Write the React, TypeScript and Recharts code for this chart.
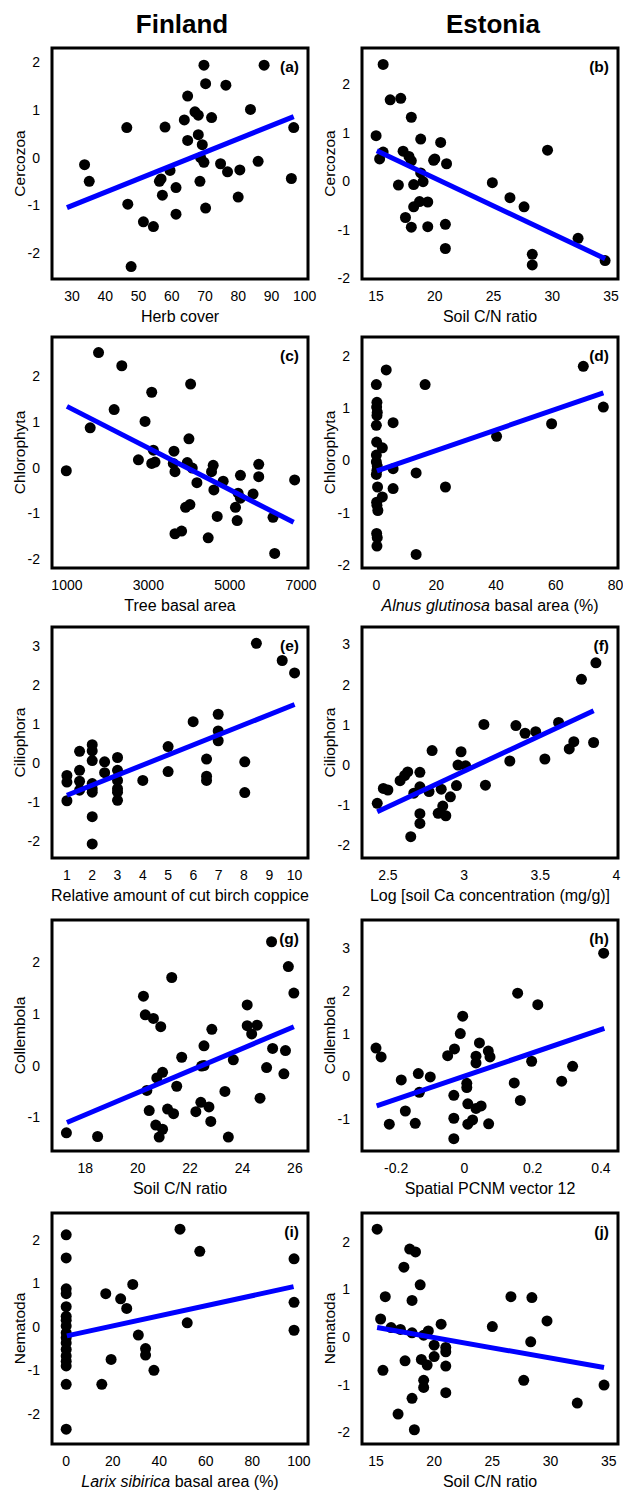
import React from 'react';
import { ScatterChart, Scatter, XAxis, YAxis, ReferenceArea } from 'recharts';

// (a) Finland, Cercozoa vs herb cover
const herbCover = [69.7, 87.8, 70.2, 76.3, 64.8, 83.7, 67, 68, 63.8, 72, 46.5, 58, 96.7, 68, 64.8, 69.2, 33.8, 35.2, 68.7, 69.7, 74.7, 86, 59.5, 76.8, 80.5, 56.3, 56.8, 68.5, 96, 61.3, 57.2, 80, 46.8, 70.2, 61.3, 51.5, 54.5, 47.8];
const cercozoaFi = [1.94, 1.94, 1.55, 1.52, 1.29, 1.01, 0.96, 0.89, 0.79, 0.84, 0.63, 0.64, 0.63, 0.48, 0.36, 0.27, -0.15, -0.5, 0.0, -0.1, -0.13, -0.08, -0.27, -0.3, -0.26, -0.5, -0.45, -0.5, -0.44, -0.63, -0.79, -0.83, -0.98, -1.06, -1.19, -1.35, -1.45, -2.29];
const fitA = [{ x: 28.5, y: -1.05 }, { x: 96.7, y: 0.86 }];

// (b) Estonia, Cercozoa vs soil C/N
const soilCnB = [15.6, 16.2, 17.1, 18.0, 15.0, 18.8, 20.5, 15.6, 15.3, 17.3, 17.8, 18.0, 19.9, 20.0, 21.0, 29.6, 16.9, 18.2, 19.0, 18.8, 24.9, 26.4, 27.6, 18.2, 18.7, 19.4, 17.5, 18.0, 19.4, 20.9, 20.9, 28.3, 28.3, 32.2, 34.5];
const cercozoaEe = [2.41, 1.68, 1.71, 1.32, 0.94, 0.87, 0.8, 0.6, 0.46, 0.62, 0.51, 0.42, 0.43, 0.46, 0.36, 0.64, -0.08, -0.07, -0.01, 0.17, -0.03, -0.34, -0.53, -0.53, -0.42, -0.43, -0.75, -0.95, -0.94, -0.89, -1.39, -1.51, -1.73, -1.18, -1.64];
const fitB = [{ x: 15.06, y: 0.63 }, { x: 34.5, y: -1.6 }];

// (c) Finland, Chlorophyta vs tree basal area
const treeBasal = [1776, 2347, 4037, 3082, 2159, 2918, 1571, 3996, 3122, 3628, 2755, 3082, 3163, 3612, 3653, 3955, 4078, 4592, 4551, 4192, 4837, 4608, 5261, 5710, 5710, 5571, 5204, 5261, 5139, 5180, 4690, 4020, 3914, 3653, 3816, 4469, 6061, 6102, 6592, 984];
const chlorophytaFi = [2.52, 2.23, 1.83, 1.65, 1.27, 1.01, 0.87, 0.63, 0.38, 0.36, 0.17, 0.09, 0.12, 0.09, -0.09, 0.11, -0.01, 0.05, -0.09, -0.33, -0.3, -0.49, -0.17, 0.07, -0.2, -0.58, -0.56, -0.67, -0.87, -1.16, -1.07, -0.81, -0.87, -1.45, -1.39, -1.54, -1.09, -1.88, -0.27, -0.07];
const fitC = [{ x: 1000, y: 1.34 }, { x: 6567, y: -1.2 }];

// (d) Estonia, Chlorophyta vs Alnus glutinosa basal area
const alnusBasal = [69.2, 75.9, 58.6, 40.2, 16.3, 3.3, 5.6, 13.3, 23.1, 13.3, 5.6, 5.6, 2.0, 2.0, 0, 0.2, 0.1, 0.3, 0.2, 0, 0.1, 0, 0.3, 0.2, 0, 0.4, 0.1, 0.2, 0.5, 0.1, 0.3, 0.2, 0];
const chlorophytaEe = [1.8, 1.02, 0.7, 0.46, 1.45, 1.73, 0.72, -0.24, -0.51, -1.8, -0.16, -0.54, 0.24, -0.7, 1.45, 1.11, 1.02, 0.92, 0.86, 0.67, 0.35, -0.03, -0.11, -0.19, -0.27, -0.51, -0.8, -0.86, -0.96, -1.4, -1.48, -1.64, 0.1];
const fitD = [{ x: 0.2, y: -0.2 }, { x: 75.9, y: 1.29 }];

// (e) Finland, Ciliophora vs cut birch coppice
const birchCoppice = [8.49, 9.51, 10.0, 6.98, 5.99, 6.98, 6.98, 5.0, 5.0, 6.52, 6.52, 6.52, 8.03, 8.03, 4.0, 3, 3, 3, 3, 3, 3, 2.49, 2.49, 2, 2, 2, 2, 2, 2, 2, 2, 1.5, 1.5, 1.5, 1.5, 1, 1, 1];
const ciliophoraFi = [3.07, 2.63, 2.31, 1.25, 1.06, 0.82, 0.57, 0.42, -0.22, 0.1, -0.34, -0.45, 0.03, -0.76, -0.45, 0.14, -0.19, -0.45, -0.66, -0.75, -0.96, 0.03, -0.25, 0.47, 0.31, 0.06, -0.53, -0.66, -0.75, -1.38, -2.08, 0.3, -0.19, -0.47, -0.7, -0.32, -0.49, -0.97];
const fitE = [{ x: 1, y: -0.83 }, { x: 10, y: 1.5 }];

// (f) Estonia, Ciliophora vs log soil Ca
const logCa = [3.865, 3.77, 3.85, 3.72, 3.69, 3.62, 3.53, 3.47, 3.4, 3.34, 3.3, 3.13, 3.14, 2.98, 2.96, 3.01, 2.95, 2.91, 2.85, 2.86, 2.83, 2.88, 2.77, 2.79, 2.71, 2.71, 2.67, 2.71, 2.71, 2.65, 2.63, 2.61, 2.58, 2.5, 2.47, 2.43];
const ciliophoraEe = [2.54, 2.13, 0.56, 0.58, 0.4, 1.06, 0.15, 0.83, 0.79, 0.98, 0.1, 1.01, -0.5, 0.33, 0.0, -0.02, -0.51, -0.79, -0.6, -1.02, -1.2, -1.26, -0.66, 0.36, -0.18, -0.54, -0.7, -1.21, -1.45, -1.78, -0.17, -0.26, -0.39, -0.62, -0.58, -0.95];
const fitF = [{ x: 2.43, y: -1.16 }, { x: 3.85, y: 1.35 }];

// (g) Finland, Collembola vs soil C/N
const soilCnG = [25.11, 25.75, 25.96, 21.3, 20.22, 20.29, 20.6, 20.88, 24.18, 24.18, 24.35, 24.56, 22.83, 22.53, 21.68, 22.44, 22.53, 23.65, 25.15, 25.64, 24.92, 25.58, 20.95, 20.73, 21.49, 20.35, 23.33, 24.67, 20.44, 21.14, 21.37, 22.22, 22.41, 22.72, 22.79, 20.69, 20.95, 20.82, 23.46, 17.28, 18.47];
const collembolaFi = [2.39, 1.91, 1.4, 1.7, 1.34, 0.98, 0.91, 0.75, 1.17, 0.77, 0.61, 0.78, 0.7, 0.38, 0.16, -0.01, 0.0, 0.11, 0.33, 0.29, -0.04, -0.16, -0.13, -0.24, -0.4, -0.48, -0.5, -0.63, -0.87, -0.84, -0.93, -0.89, -0.71, -0.8, -1.08, -1.15, -1.23, -1.38, -1.38, -1.3, -1.37];
const fitG = [{ x: 17.3, y: -1.1 }, { x: 25.96, y: 0.75 }];

// (h) Estonia, Collembola vs PCNM vector 12
const pcnm12 = [0.408, 0.156, 0.215, -0.005, -0.012, 0.044, -0.029, -0.049, 0.034, 0.034, 0.07, 0.075, -0.259, -0.244, 0.197, 0.317, -0.135, -0.1, -0.185, -0.132, 0.007, 0.007, 0.146, 0.285, 0.164, -0.031, 0.01, 0.034, 0.049, -0.173, -0.031, 0.01, 0.024, 0.071, -0.144, -0.22, -0.031];
const collembolaEe = [2.89, 1.95, 1.68, 1.41, 1.0, 0.78, 0.64, 0.48, 0.47, 0.31, 0.59, 0.45, 0.66, 0.45, 0.35, 0.23, 0.06, -0.02, -0.09, -0.38, -0.17, -0.27, -0.16, -0.12, -0.57, -0.45, -0.65, -0.76, -0.7, -0.82, -0.99, -1.13, -1.03, -1.12, -1.11, -1.13, -1.47];
const fitH = [{ x: -0.257, y: -0.7 }, { x: 0.41, y: 1.12 }];

// (i) Finland, Nematoda vs Larix sibirica basal area
const larixBasal = [48.9, 57.4, 97.9, 97.9, 97.9, 28.6, 17.0, 23.4, 26.0, 52.0, 31.0, 34.1, 34.1, 37.7, 19.3, 15.3, 0, 0, 0, 0, 0, 0, 0, 0, 0, 0, 0, 0, 0, 0, 0, 0, 0];
const nematodaFi = [2.24, 1.73, 1.56, 0.56, -0.08, 0.97, 0.76, 0.64, 0.42, 0.09, -0.19, -0.5, -0.65, -1.0, -0.75, -1.32, 2.11, 1.58, 0.87, 0.76, 0.46, 0.24, 0.15, 0.02, -0.14, -0.25, -0.37, -0.52, -0.67, -0.79, -0.9, -1.32, -2.35];
const fitI = [{ x: 0.3, y: -0.21 }, { x: 97.7, y: 0.92 }];

// (j) Estonia, Nematoda vs soil C/N
const soilCnJ = [15.1, 17.9, 18.4, 17.4, 18.8, 15.8, 18.1, 26.6, 28.4, 29.7, 15.4, 25.0, 20.6, 16.3, 17.1, 18.1, 19.1, 19.5, 20.0, 21.0, 21.0, 28.3, 20.0, 18.9, 17.5, 19.4, 21.0, 15.6, 19.1, 19.1, 27.7, 21.0, 18.1, 34.6, 32.3, 16.9, 18.3];
const nematodaEe = [2.27, 1.85, 1.79, 1.47, 1.1, 0.85, 0.77, 0.85, 0.83, 0.34, 0.38, 0.22, 0.27, 0.2, 0.16, 0.09, 0.04, 0.13, -0.17, -0.22, -0.31, -0.1, -0.41, -0.47, -0.5, -0.59, -0.61, -0.7, -0.91, -1.06, -0.91, -1.17, -1.29, -1.01, -1.39, -1.62, -1.95];
const fitJ = [{ x: 15.1, y: 0.2 }, { x: 34.6, y: -0.64 }];

const PLOT_W = 256;
const PLOT_H = 231;
const Y_AXIS_W = 52;
const X_AXIS_H = 52;
const TOP_PAD = 10;
const BLUE = '#0000ff';
const tickStyle = { fill: '#000', fontSize: 14 };

type Pt = { x: number; y: number };
type PanelProps = {
  left: number;
  top: number;
  width: number;
  xs: number[];
  ys: number[];
  fit: Pt[];
  xDomain: [number, number];
  yDomain: [number, number];
  xTicks: number[];
  yTicks: number[];
  xTitle: React.ReactNode;
  yTitle: string;
  tag: string;
  xTickMaxX?: number; // keeps the last x label tucked in, like the original
};

const dot = (p: any) => <circle cx={p.cx} cy={p.cy} r={5.5} fill="#000" />;
const noDot = () => <g />;

function Panel(p: PanelProps) {
  const pts = p.xs.map((x, i) => ({ x, y: p.ys[i] }));

  const xTick = (tp: any) => (
    <text
      x={p.xTickMaxX != null ? Math.min(tp.x, p.xTickMaxX) : tp.x}
      y={tp.y}
      dy="0.71em"
      textAnchor="middle"
      fontSize={14}
      fill="#000"
    >
      {tp.payload.value}
    </text>
  );
  const xTitle = (lp: any) => {
    const vb = lp.viewBox || { x: Y_AXIS_W, y: TOP_PAD + PLOT_H, width: PLOT_W };
    return (
      <text x={vb.x + vb.width / 2} y={vb.y + 43} textAnchor="middle" fontSize={16} fill="#000">
        {p.xTitle}
      </text>
    );
  };
  const yTitle = (lp: any) => {
    const vb = lp.viewBox || { y: TOP_PAD, height: PLOT_H };
    const cy = vb.y + vb.height / 2;
    return (
      <text x={19.5} y={cy} transform={`rotate(-90, 19.5, ${cy})`} textAnchor="middle" dominantBaseline="central" fontSize={15.5} fill="#000">
        {p.yTitle}
      </text>
    );
  };
  const tagLabel = (lp: any) => {
    const vb = lp.viewBox || { x: Y_AXIS_W, y: TOP_PAD, width: PLOT_W };
    return (
      <text x={vb.x + vb.width - 9} y={vb.y + 24} textAnchor="end" fontSize={15.5} fontWeight="bold" fill="#000">
        {p.tag}
      </text>
    );
  };

  return (
    <div style={{ position: 'absolute', left: p.left, top: p.top }}>
      <ScatterChart
        width={p.width}
        height={TOP_PAD + PLOT_H + X_AXIS_H}
        margin={{ top: TOP_PAD, right: p.width - Y_AXIS_W - PLOT_W, bottom: 0, left: 0 }}
      >
        <XAxis
          type="number"
          dataKey="x"
          domain={p.xDomain}
          ticks={p.xTicks}
          interval={0}
          allowDataOverflow
          axisLine={false}
          tickLine={false}
          tickMargin={6}
          tick={xTick}
          height={X_AXIS_H}
          label={{ content: xTitle }}
        />
        <YAxis
          type="number"
          dataKey="y"
          domain={p.yDomain}
          ticks={p.yTicks}
          interval={0}
          allowDataOverflow
          axisLine={false}
          tickLine={false}
          tickMargin={6}
          tick={tickStyle}
          width={Y_AXIS_W}
          label={{ content: yTitle }}
        />
        <ReferenceArea
          x1={p.xDomain[0]}
          x2={p.xDomain[1]}
          y1={p.yDomain[0]}
          y2={p.yDomain[1]}
          fill="none"
          stroke="#000"
          strokeWidth={3}
          label={{ content: tagLabel }}
        />
        <Scatter data={pts} shape={dot} isAnimationActive={false} />
        <Scatter data={p.fit} shape={noDot} line={{ stroke: BLUE, strokeWidth: 5 }} isAnimationActive={false} />
      </ScatterChart>
    </div>
  );
}

const italicTitle = (genus: string) => (
  <>
    <tspan fontStyle="italic">{genus}</tspan>
    <tspan> basal area (%)</tspan>
  </>
);

export default function App() {
  const L = 0;
  const R = 310;
  const LW = 324; // left charts run a bit wider so edge tick labels are not cut
  const RW = 313;
  const rows = [38, 327, 617, 910, 1203];
  return (
    <div
      style={{
        position: 'absolute',
        left: 0,
        top: 0,
        width: 623,
        height: 1492,
        overflow: 'hidden',
        background: '#fff',
        fontFamily: '"Liberation Sans", Arial, sans-serif',
      }}
    >
      <div style={{ position: 'absolute', left: 82, top: 9, width: 200, textAlign: 'center', fontSize: 26, fontWeight: 'bold' }}>
        Finland
      </div>
      <div style={{ position: 'absolute', left: 393, top: 9, width: 200, textAlign: 'center', fontSize: 26, fontWeight: 'bold' }}>
        Estonia
      </div>

      {/* Estonia column first, so the wider Finland charts sit on top of it */}
      <Panel left={R} top={rows[0]} width={RW} xs={soilCnB} ys={cercozoaEe} fit={fitB}
        xDomain={[13.8, 35.6]} yDomain={[-2.02, 2.75]} xTicks={[15, 20, 25, 30, 35]} yTicks={[-2, -1, 0, 1, 2]}
        xTitle="Soil C/N ratio" yTitle="Cercozoa" tag="(b)" />
      <Panel left={R} top={rows[1]} width={RW} xs={alnusBasal} ys={chlorophytaEe} fit={fitD}
        xDomain={[-4.8, 80.8]} yDomain={[-2.06, 2.36]} xTicks={[0, 20, 40, 60, 80]} yTicks={[-2, -1, 0, 1, 2]}
        xTitle={italicTitle('Alnus glutinosa')} yTitle="Chlorophyta" tag="(d)" />
      <Panel left={R} top={rows[2]} width={RW} xs={logCa} ys={ciliophoraEe} fit={fitF}
        xDomain={[2.33, 4.01]} yDomain={[-2.31, 3.43]} xTicks={[2.5, 3, 3.5, 4]} yTicks={[-2, -1, 0, 1, 2, 3]}
        xTitle="Log [soil Ca concentration (mg/g)]" yTitle="Ciliophora" tag="(f)" />
      <Panel left={R} top={rows[3]} width={RW} xs={pcnm12} ys={collembolaEe} fit={fitH}
        xDomain={[-0.3, 0.45]} yDomain={[-1.76, 3.67]} xTicks={[-0.2, 0, 0.2, 0.4]} yTicks={[-1, 0, 1, 2, 3]}
        xTitle="Spatial PCNM vector 12" yTitle="Collembola" tag="(h)" />
      <Panel left={R} top={rows[4]} width={RW} xs={soilCnJ} ys={nematodaEe} fit={fitJ}
        xDomain={[13.8, 35.8]} yDomain={[-2.25, 2.61]} xTicks={[15, 20, 25, 30, 35]} yTicks={[-2, -1, 0, 1, 2]}
        xTitle="Soil C/N ratio" yTitle="Nematoda" tag="(j)" />

      <Panel left={L} top={rows[0]} width={LW} xs={herbCover} ys={cercozoaFi} fit={fitA}
        xDomain={[24, 101]} yDomain={[-2.55, 2.3]} xTicks={[30, 40, 50, 60, 70, 80, 90, 100]} yTicks={[-2, -1, 0, 1, 2]}
        xTitle="Herb cover" yTitle="Cercozoa" tag="(a)" />
      <Panel left={L} top={rows[1]} width={LW} xs={treeBasal} ys={chlorophytaFi} fit={fitC}
        xDomain={[633, 6920]} yDomain={[-2.2, 2.86]} xTicks={[1000, 3000, 5000, 7000]} yTicks={[-2, -1, 0, 1, 2]}
        xTitle="Tree basal area" yTitle="Chlorophyta" tag="(c)" xTickMaxX={301} />
      <Panel left={L} top={rows[2]} width={LW} xs={birchCoppice} ys={ciliophoraFi} fit={fitE}
        xDomain={[0.41, 10.53]} yDomain={[-2.44, 3.49]} xTicks={[1, 2, 3, 4, 5, 6, 7, 8, 9, 10]} yTicks={[-2, -1, 0, 1, 2, 3]}
        xTitle="Relative amount of cut birch coppice" yTitle="Ciliophora" tag="(e)" />
      <Panel left={L} top={rows[3]} width={LW} xs={soilCnG} ys={collembolaFi} fit={fitG}
        xDomain={[16.73, 26.5]} yDomain={[-1.65, 2.81]} xTicks={[18, 20, 22, 24, 26]} yTicks={[-1, 0, 1, 2]}
        xTitle="Soil C/N ratio" yTitle="Collembola" tag="(g)" />
      <Panel left={L} top={rows[4]} width={LW} xs={larixBasal} ys={nematodaFi} fit={fitI}
        xDomain={[-6.1, 103.9]} yDomain={[-2.69, 2.61]} xTicks={[0, 20, 40, 60, 80, 100]} yTicks={[-2, -1, 0, 1, 2]}
        xTitle={italicTitle('Larix sibirica')} yTitle="Nematoda" tag="(i)" />
    </div>
  );
}
